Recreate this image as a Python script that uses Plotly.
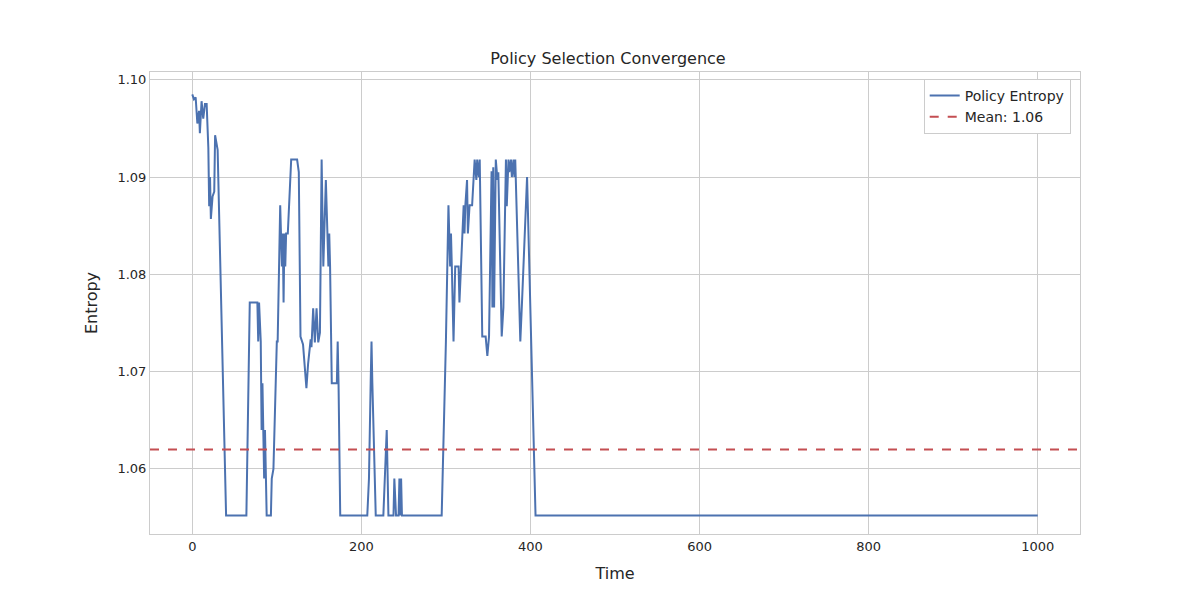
import numpy as np
import plotly.graph_objects as go

# breakpoints (time, entropy)
time_pts = [0, 2, 4, 6, 8, 9, 11, 13, 15, 17, 19, 20, 21, 22, 24, 26, 27, 30, 40, 64,
            68, 77, 78, 79, 81, 82, 83, 85, 86, 88, 93, 94, 96, 100, 101, 104, 106, 107, 108, 109,
            110, 111, 113, 117, 124, 126, 128, 131, 135, 137, 140, 141, 143, 145, 147, 149, 151, 153, 155, 158,
            161, 162, 163, 165, 171, 172, 173, 175, 207, 209, 211, 212, 213, 217, 226, 230, 232, 238, 239, 241,
            244, 245, 246, 247, 248, 295, 300, 303, 305, 306, 307, 309, 311, 315, 316, 318, 321, 322, 323, 325,
            326, 328, 331, 334, 336, 337, 339, 340, 343, 347, 349, 351, 354, 355, 356, 357, 359, 361, 362, 366,
            368, 371, 372, 374, 375, 377, 378, 380, 381, 382, 388, 390, 396, 406, 1000]
entropy = [1.0985, 1.0980, 1.0982, 1.0955, 1.0968, 1.0945, 1.0978, 1.0960, 1.0975, 1.0975, 1.0930, 1.0870, 1.0900, 1.0857, 1.0880, 1.0885, 1.0943, 1.0928, 1.0552, 1.0552,
           1.0771, 1.0771, 1.0731, 1.0771, 1.0731, 1.0640, 1.0688, 1.0590, 1.0640, 1.0552, 1.0552, 1.0590, 1.0600, 1.0731, 1.0731, 1.0871, 1.0808, 1.0842, 1.0771, 1.0842,
           1.0808, 1.0842, 1.0842, 1.0918, 1.0918, 1.0905, 1.0736, 1.0728, 1.0683, 1.0708, 1.0733, 1.0725, 1.0765, 1.0730, 1.0765, 1.0730, 1.0740, 1.0918, 1.0808, 1.0897,
           1.0808, 1.0842, 1.0808, 1.0688, 1.0688, 1.0731, 1.0688, 1.0552, 1.0552, 1.0590, 1.0688, 1.0731, 1.0688, 1.0552, 1.0552, 1.0640, 1.0552, 1.0552, 1.0590, 1.0552,
           1.0552, 1.0590, 1.0552, 1.0590, 1.0552, 1.0552, 1.0731, 1.0871, 1.0808, 1.0842, 1.0808, 1.0731, 1.0808, 1.0808, 1.0771, 1.0808, 1.0871, 1.0842, 1.0871, 1.0897,
           1.0842, 1.0871, 1.0871, 1.0918, 1.0897, 1.0918, 1.0900, 1.0918, 1.0736, 1.0736, 1.0716, 1.0736, 1.0906, 1.0766, 1.0910, 1.0766, 1.0918, 1.0897, 1.0905, 1.0736,
           1.0766, 1.0918, 1.0870, 1.0918, 1.0905, 1.0918, 1.0900, 1.0918, 1.0900, 1.0918, 1.0731, 1.0771, 1.0900, 1.0552, 1.0552]
mean_val = 1.062

fig = go.Figure()
fig.add_trace(go.Scatter(x=time_pts, y=entropy, mode="lines", name="Policy Entropy",
                         line=dict(color="#4c72b0", width=2)))
fig.add_trace(go.Scatter(x=[-50, 1050], y=[mean_val, mean_val], mode="lines",
                         name="Mean: 1.06", line=dict(color="#c44e52", width=2, dash="dash")))

axis = dict(showgrid=True, gridcolor="#cccccc", gridwidth=1, zeroline=False,
            showline=True, linecolor="#cccccc", mirror=True, ticks="",
            tickfont=dict(size=13, color="#262626"))
fig.update_layout(
    width=1200, height=600,
    paper_bgcolor="white", plot_bgcolor="white",
    font=dict(family="DejaVu Sans", color="#262626"),
    title=dict(text="Policy Selection Convergence", x=0.5, xanchor="center", y=0.925,
               font=dict(size=16)),
    margin=dict(l=142, r=128, t=64, b=74),
    xaxis=dict(axis, range=[-50, 1050], tickvals=[0, 200, 400, 600, 800, 1000],
               title=dict(text="Time", font=dict(size=16))),
    yaxis=dict(axis, range=[1.0533, 1.1008], tickvals=[1.06, 1.07, 1.08, 1.09, 1.10],
               tickformat=".2f", title=dict(text="Entropy", font=dict(size=16))),
    legend=dict(x=0.99, y=0.985, xanchor="right", yanchor="top", bgcolor="white",
                bordercolor="#cccccc", borderwidth=1, font=dict(size=14)),
)
fig.write_html("out.html")
